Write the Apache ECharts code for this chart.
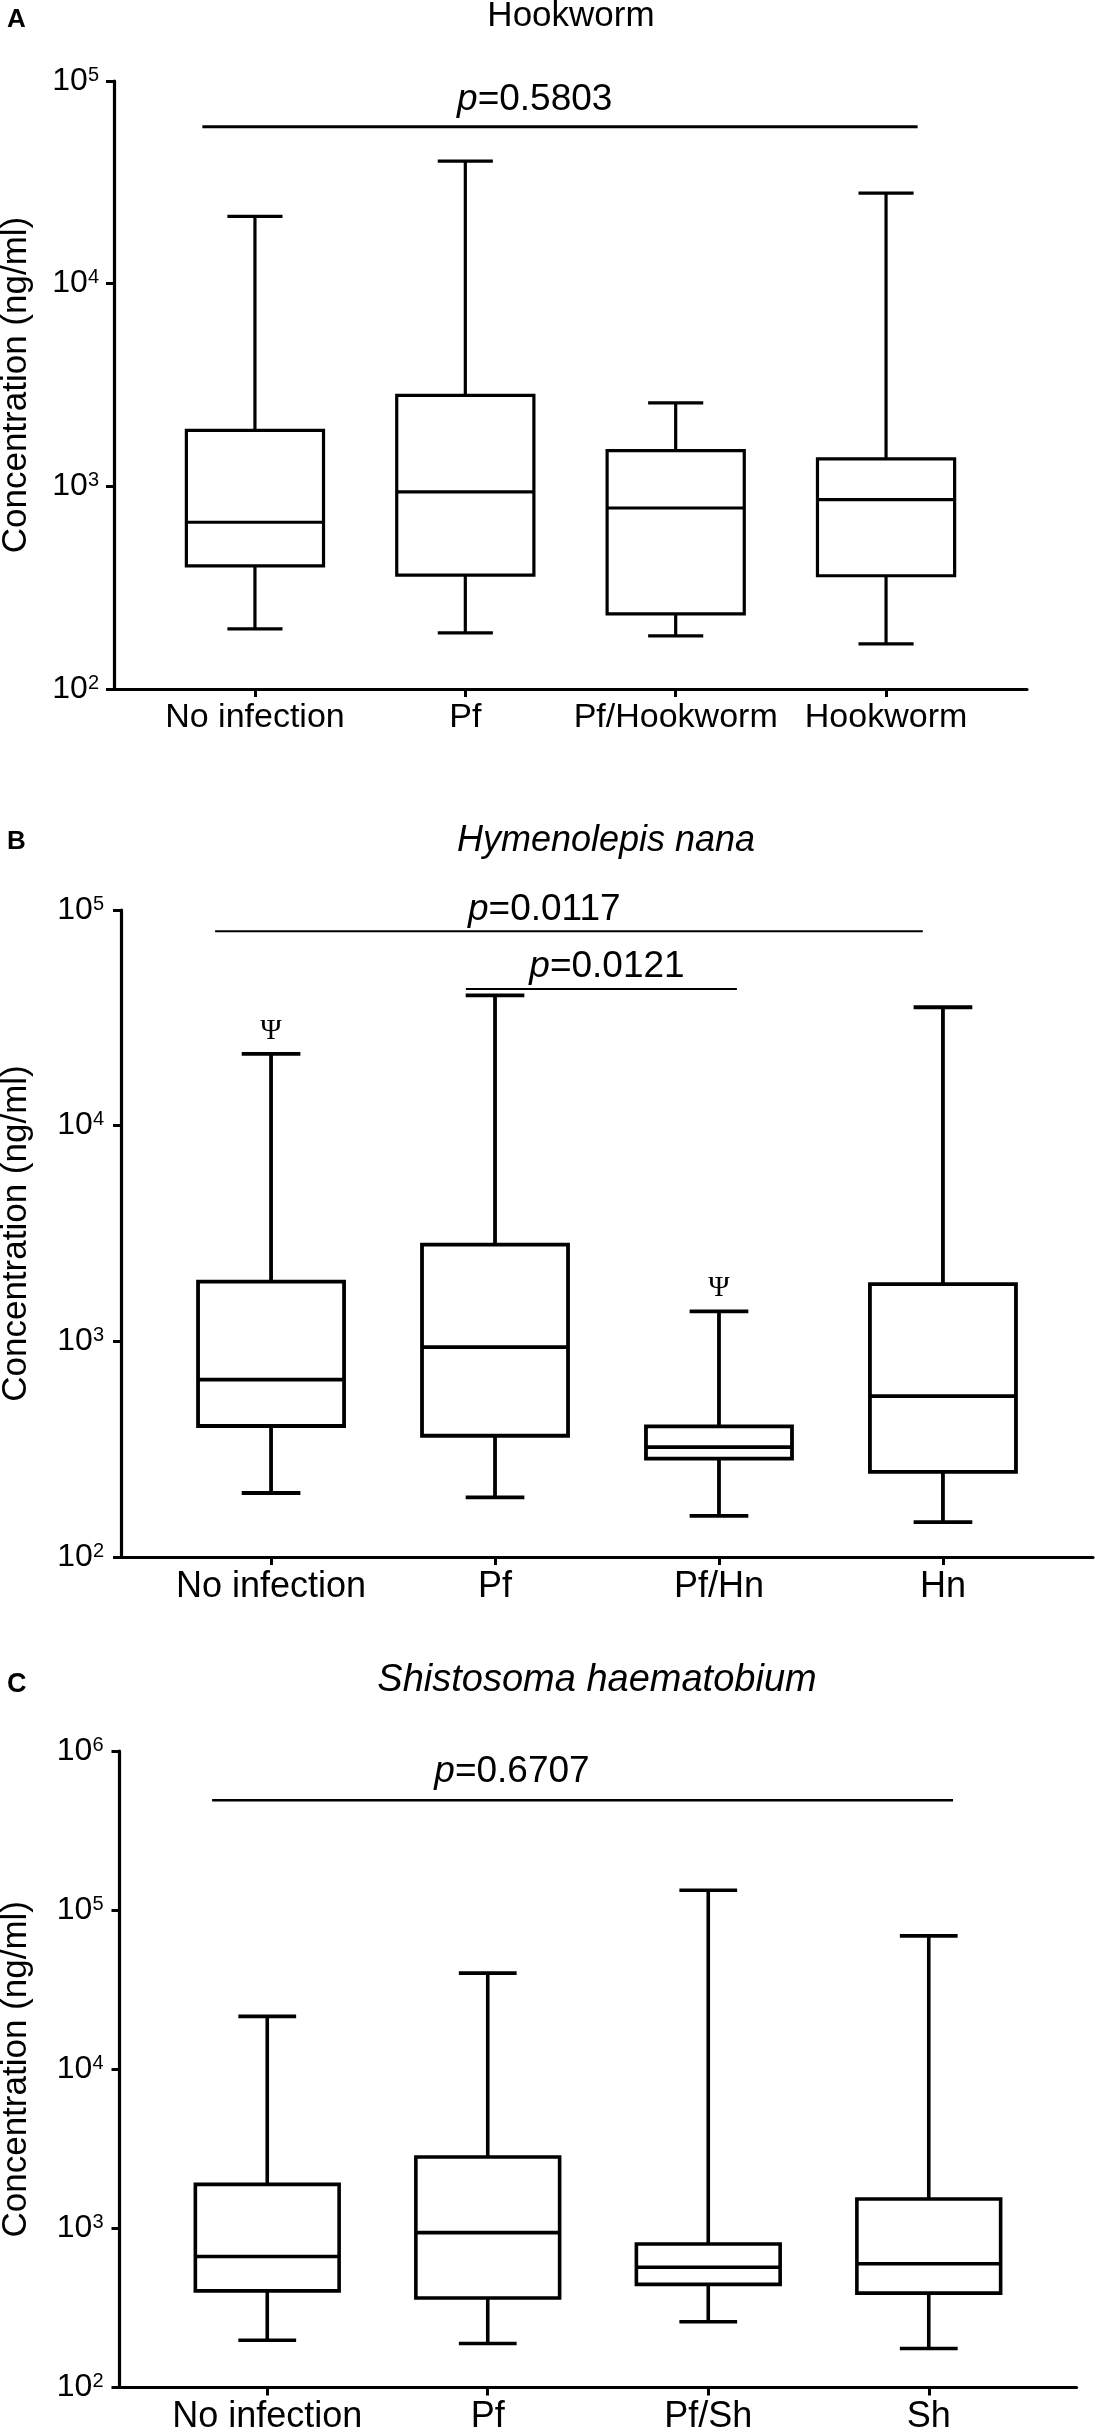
<!DOCTYPE html>
<html>
<head>
<meta charset="utf-8">
<script src="https://cdn.jsdelivr.net/npm/echarts@6/dist/echarts.min.js"></script>
<style>
    html, body { margin: 0; padding: 0; background: #fff; }
    #main { width: 1095px; height: 2432px; }
</style>
</head>
<body>
<div id="main"></div>
<script>
    "use strict";

    // categories per panel
    var catsA = ['No infection', 'Pf', 'Pf/Hookworm', 'Hookworm'];
    var catsB = ['No infection', 'Pf', 'Pf/Hn', 'Hn'];
    var catsC = ['No infection', 'Pf', 'Pf/Sh', 'Sh'];

    // box stats [min, q1, median, q3, max] in ng/ml
    var noInfection = [198, 405, 665, 1890, 21500];
    var pfOnly = [189, 365, 940, 2810, 40200];
    var pfHookworm = [183, 235, 782, 1500, 2580];
    var hookworm = [167, 362, 860, 1366, 28000];
    var pfHn = [155, 286, 323, 403, 1377];
    var hn = [145, 248, 557, 1841, 35400];
    var pfSh = [259, 445, 570, 798, 133400];
    var sh = [176, 392, 600, 1530, 68900];

    // significance bars [from, to, height, text anchor, p value]
    var barsA = [[-0.25, 3.15, 59500, 1.33, '0.5803']];
    var barsB = [[-0.25, 2.91, 79600, 1.22, '0.0117'], [0.87, 2.08, 43000, 1.50, '0.0121']];
    var barsC = [[-0.25, 3.11, 491000, 1.11, '0.6707']];

    // psi marks [category, whisker top]
    var psiB = [[0, 21500], [2, 1377]];

    var tickPos = [0, 1, 2, 3];

    var FONT = '"Liberation Sans", Arial, Helvetica, sans-serif';
    var SERIF = '"Liberation Serif", "DejaVu Serif", serif';
    var BOX_W = 0.652;
    var CAP_W = 0.262;

    var panels = [
        { cats: catsA, boxes: [noInfection, pfOnly, pfHookworm, hookworm], bars: barsA, psi: [],
          yMax: 1e5, left: 114, top: 81, width: 913, height: 608,
          lw: 3.2, barW: 3, xFont: 34, gap: 27, nameGap: 80, yMargin: 15 },
        { cats: catsB, boxes: [noInfection, pfOnly, pfHn, hn], bars: barsB, psi: psiB,
          yMax: 1e5, left: 121, top: 910, width: 972, height: 647,
          lw: 3.8, barW: 2, xFont: 36, gap: 22, nameGap: 87, yMargin: 17 },
        { cats: catsC, boxes: [noInfection, pfOnly, pfSh, sh], bars: barsC, psi: [],
          yMax: 1e6, left: 119.5, top: 1751, width: 957, height: 636.5,
          lw: 3.6, barW: 2.5, xFont: 36, gap: 28, nameGap: 86, yMargin: 16 }
    ];

    function boxRenderer(lw) {
        return function (params, api) {
            var x = api.value(0);
            var lo = api.coord([x, api.value(1)]);
            var q1 = api.coord([x, api.value(2)]);
            var md = api.coord([x, api.value(3)]);
            var q3 = api.coord([x, api.value(4)]);
            var hi = api.coord([x, api.value(5)]);
            var bw = api.size([BOX_W, 0], [x, 1000])[0];
            var cw = api.size([CAP_W, 0], [x, 1000])[0];
            var cx = md[0];
            var st = { stroke: '#000', lineWidth: lw };
            return {
                type: 'group',
                children: [
                    { type: 'line', shape: { x1: cx, y1: hi[1], x2: cx, y2: q3[1] }, style: st },
                    { type: 'line', shape: { x1: cx, y1: q1[1], x2: cx, y2: lo[1] }, style: st },
                    { type: 'line', shape: { x1: cx - cw / 2, y1: hi[1], x2: cx + cw / 2, y2: hi[1] }, style: st },
                    { type: 'line', shape: { x1: cx - cw / 2, y1: lo[1], x2: cx + cw / 2, y2: lo[1] }, style: st },
                    { type: 'rect', shape: { x: cx - bw / 2, y: q3[1], width: bw, height: q1[1] - q3[1] },
                      style: { fill: '#fff', stroke: '#000', lineWidth: lw } },
                    { type: 'line', shape: { x1: cx - bw / 2, y1: md[1], x2: cx + bw / 2, y2: md[1] }, style: st }
                ]
            };
        };
    }

    function barRenderer(p) {
        return function (params, api) {
            var a = api.coord([api.value(0), api.value(2)]);
            var b = api.coord([api.value(1), api.value(2)]);
            var t = api.coord([api.value(3), api.value(2)]);
            return {
                type: 'group',
                children: [
                    { type: 'line', shape: { x1: a[0], y1: a[1], x2: b[0], y2: b[1] },
                      style: { stroke: '#000', lineWidth: p.barW } },
                    { type: 'text', x: t[0], y: t[1] - p.gap,
                      style: {
                          text: '{i|p}=' + p.bars[params.dataIndex][4],
                          rich: { i: { fontStyle: 'italic', fontSize: 37, fontFamily: FONT, fill: '#000' } },
                          fontSize: 37, fontFamily: FONT, fill: '#000',
                          align: 'center', verticalAlign: 'middle'
                      } }
                ]
            };
        };
    }

    function psiRenderer(params, api) {
        var pt = api.coord([api.value(0), api.value(1)]);
        return {
            type: 'text', x: pt[0], y: pt[1] - 23,
            style: { text: '\u03A8', fontSize: 29, fontFamily: SERIF, fill: '#000',
                     align: 'center', verticalAlign: 'middle' }
        };
    }

    function powerLabel(v) {
        return '{b|10}{s|' + Math.round(Math.log(v) / Math.LN10) + '}';
    }

    var option = {
        backgroundColor: '#fff',
        animation: false,
        grid: [],
        xAxis: [],
        yAxis: [],
        series: [],
        graphic: [
            { type: 'text', x: 7, y: 19.5, style: { text: 'A', font: 'bold 26px ' + FONT, fill: '#000', verticalAlign: 'middle' } },
            { type: 'text', x: 571, y: 16.5, style: { text: 'Hookworm', font: '35px ' + FONT, fill: '#000', align: 'center', verticalAlign: 'middle' } },
            { type: 'text', x: 7, y: 842, style: { text: 'B', font: 'bold 26px ' + FONT, fill: '#000', verticalAlign: 'middle' } },
            { type: 'text', x: 606, y: 841, style: { text: 'Hymenolepis nana', font: 'italic 36px ' + FONT, fill: '#000', align: 'center', verticalAlign: 'middle' } },
            { type: 'text', x: 7, y: 1685, style: { text: 'C', font: 'bold 27px ' + FONT, fill: '#000', verticalAlign: 'middle' } },
            { type: 'text', x: 597, y: 1680, style: { text: 'Shistosoma haematobium', font: 'italic 38px ' + FONT, fill: '#000', align: 'center', verticalAlign: 'middle' } }
        ]
    };

    panels.forEach(function (p, i) {
        option.grid.push({ left: p.left, top: p.top, width: p.width, height: p.height,
                           containLabel: false, outerBoundsMode: 'none' });
        option.xAxis.push({
            type: 'value', gridIndex: i, min: -0.67, max: 3.67,
            splitLine: { show: false },
            axisLine: { show: true, onZero: false, lineStyle: { color: '#000', width: 3.2 } },
            axisTick: { show: true, customValues: tickPos, length: 8, lineStyle: { color: '#000', width: 3 } },
            axisLabel: {
                customValues: tickPos, margin: 12, color: '#000', fontSize: p.xFont, fontFamily: FONT,
                formatter: function (v) { return p.cats[Math.round(v)]; }
            }
        });
        option.yAxis.push({
            type: 'log', logBase: 10, gridIndex: i, min: 100, max: p.yMax,
            name: 'Concentration (ng/ml)', nameLocation: 'middle', nameGap: p.nameGap,
            nameTextStyle: { color: '#000', fontSize: 35, fontFamily: FONT },
            splitLine: { show: false },
            axisLine: { show: true, onZero: false, lineStyle: { color: '#000', width: 3.2 } },
            axisTick: { show: true, length: 8, lineStyle: { color: '#000', width: 3 } },
            axisLabel: {
                margin: p.yMargin, formatter: powerLabel,
                rich: {
                    b: { fontSize: 32, fontFamily: FONT, color: '#000' },
                    s: { fontSize: 20, fontFamily: FONT, color: '#000', verticalAlign: 'top' }
                }
            }
        });
        option.series.push({
            type: 'custom', xAxisIndex: i, yAxisIndex: i, z: 3,
            renderItem: boxRenderer(p.lw),
            encode: { x: 0, y: [1, 2, 3, 4, 5] },
            data: p.boxes.map(function (b, k) { return [k].concat(b); })
        });
        option.series.push({
            type: 'custom', xAxisIndex: i, yAxisIndex: i, z: 4,
            renderItem: barRenderer(p),
            encode: { x: [0, 1, 3], y: 2 },
            data: p.bars.map(function (b) { return [b[0], b[1], b[2], b[3]]; })
        });
        if (p.psi.length) {
            option.series.push({
                type: 'custom', xAxisIndex: i, yAxisIndex: i, z: 4,
                renderItem: psiRenderer,
                encode: { x: 0, y: 1 },
                data: p.psi
            });
        }
    });

    var chart = echarts.init(document.getElementById('main'), null, { renderer: 'canvas' });
    chart.setOption(option);
</script>
</body>
</html>
